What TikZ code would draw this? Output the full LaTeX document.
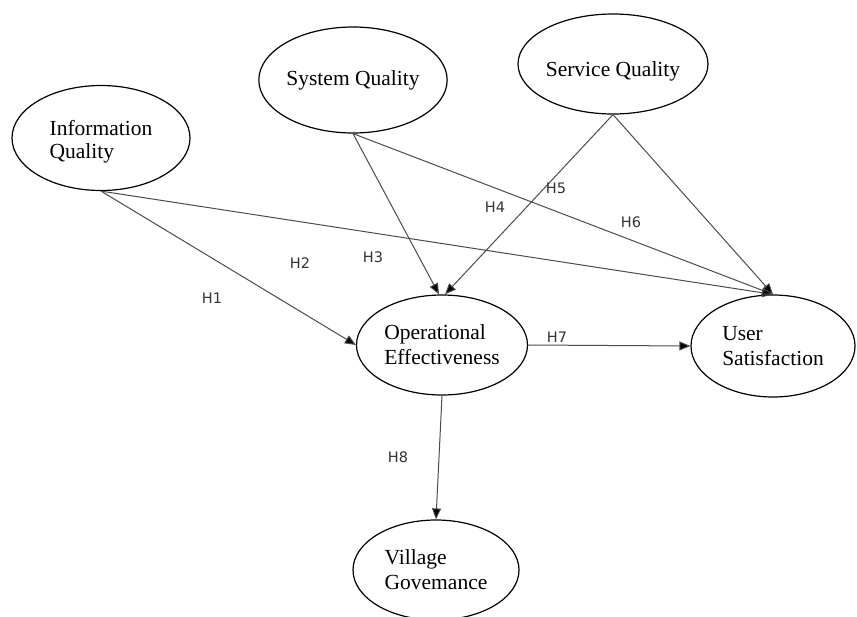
\documentclass[tikz,border=0pt]{standalone}
\usepackage{fontspec}
\setmainfont{Liberation Serif}
\newfontfamily\labfont{DejaVu Sans}
\usetikzlibrary{shapes.geometric,arrows.meta}
\tikzset{
  construct/.style={ellipse,draw=black,line width=1.2pt,inner sep=0pt,align=left,
    font=\fontsize{21.5}{25}\selectfont},
  link/.style={draw=black!70,line width=1pt,-{Triangle[length=11pt,width=9pt,fill=black]}},
  hlab/.style={font=\labfont\fontsize{14.5}{16}\selectfont,text=black!80,inner sep=0pt}
}
\begin{document}
\begin{tikzpicture}[x=1pt,y=-1pt]
\useasboundingbox (0,0) rectangle (857,616);
\fill[white] (0,0) rectangle (857,616);
\node[construct,minimum width=178pt,minimum height=105pt] (info) at (101,138) {\raisebox{-4pt}[\height][\depth]{\begin{tabular}{@{}l@{}}Information\\[-2pt]Quality\end{tabular}}};
\node[construct,minimum width=170pt,minimum height=106pt] (sys) at (353,80) {System Quality};
\node[construct,minimum width=171pt,minimum height=100pt] (serv) at (613,64) {\raisebox{-7pt}[\height][\depth]{Service Quality}};
\node[construct,minimum width=171pt,minimum height=100pt] (op) at (442,345) {Operational\\Effectiveness};
\node[construct,minimum width=164pt,minimum height=102pt] (user) at (773,346) {User\\Satisfaction};
\node[construct,minimum width=166pt,minimum height=100pt] (vill) at (436,570) {Village\\Govemance};

\draw[link] (info.south) -- (op.west);
\draw[link] (info.south) -- (user.north);
\draw[link] (sys.south) -- ([xshift=-3pt]op.north);
\draw[link] (sys.south) -- (user.north);
\draw[link] (serv.south) -- ([xshift=3pt]op.north);
\draw[link] (serv.south) -- (user.north);
\draw[link] (op.east) -- (user.west);
\draw[link] (op.south) -- (vill.north);

\node[hlab] (h1) at (212,298) {H1};
\node[hlab] (h2) at (300,263) {H2};
\node[hlab] (h3) at (373,257) {H3};
\node[hlab] (h4) at (495,207) {H4};
\node[hlab] (h5) at (556,188) {H5};
\node[hlab] (h6) at (631,222) {H6};
\node[hlab] (h7) at (557,337) {H7};
\node[hlab] (h8) at (398,457) {H8};
\end{tikzpicture}
\end{document}
